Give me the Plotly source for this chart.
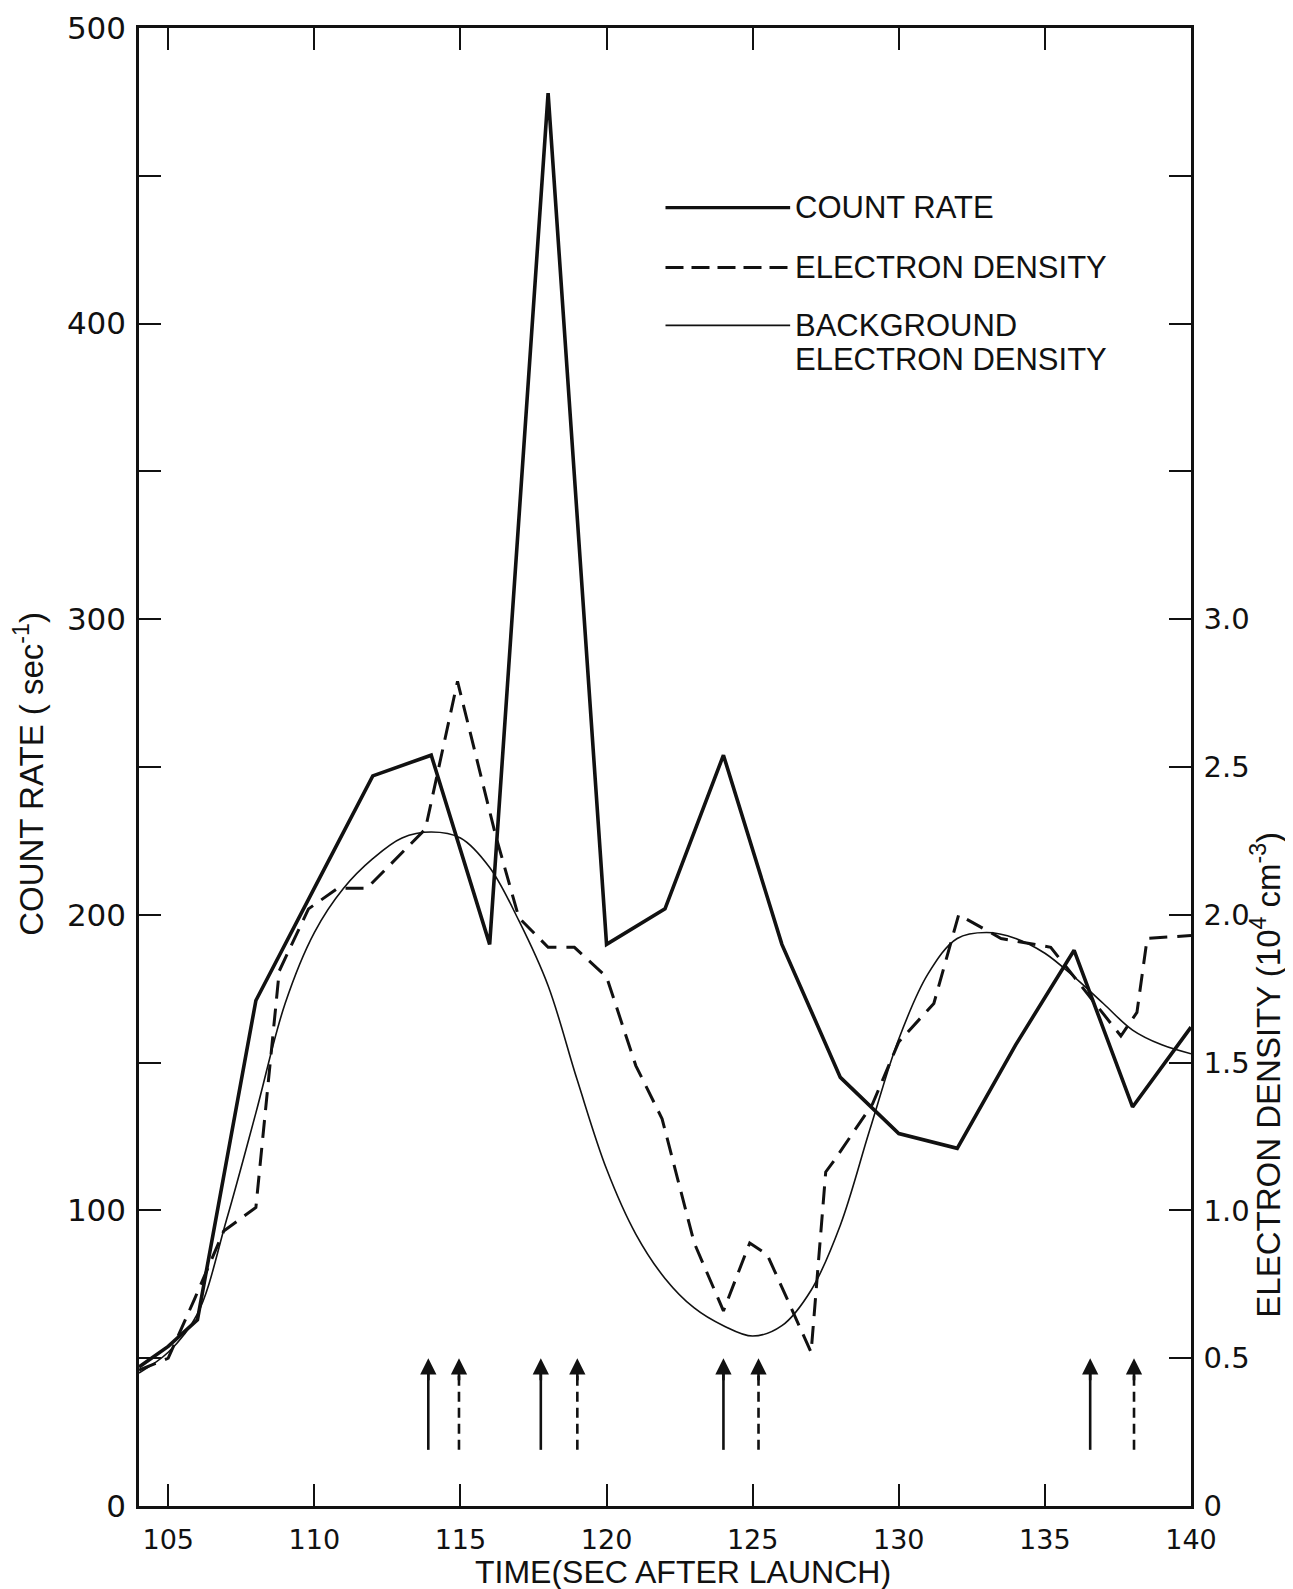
import plotly.graph_objects as go

# ---------------- data ----------------
count_t = [104, 105, 106, 108, 110, 112, 114, 116, 118, 120, 122, 124, 126, 128, 130, 132, 134, 136, 138, 140]
count_rate = [47, 54, 63, 171, 209, 247, 254, 190, 478, 190, 202, 254, 190, 145, 126, 121, 156, 188, 135, 162]

dens_t = [104, 105, 105.9, 106.9, 108, 108.8, 109.8, 110.8, 111.8, 113.8, 114.9, 116.2, 117, 118, 118.9,
          120, 121, 121.9, 123, 124, 124.9, 125.5, 127, 127.5, 127.8, 129.1, 130, 131.2, 132.05,
          133.5, 135.2, 137.6, 138.15, 138.5, 140]
dens = [0.46, 0.50, 0.70, 0.93, 1.01, 1.81, 2.02, 2.09, 2.09, 2.29, 2.79, 2.27, 1.99, 1.89, 1.89,
        1.79, 1.49, 1.31, 0.89, 0.66, 0.89, 0.85, 0.52, 1.13, 1.17, 1.36, 1.57, 1.70, 2.00,
        1.92, 1.89, 1.59, 1.67, 1.92, 1.93]

bg_t = list(range(104, 141))
bg = [0.45, 0.52, 0.65, 0.97, 1.33, 1.70, 1.94, 2.09, 2.19, 2.26, 2.28, 2.26, 2.16, 1.98, 1.76, 1.44,
      1.14, 0.92, 0.77, 0.67, 0.61, 0.575, 0.61, 0.73, 0.95, 1.27, 1.58, 1.80, 1.92, 1.94, 1.92,
      1.87, 1.79, 1.70, 1.61, 1.56, 1.53]

arrow_solid_t = [113.9, 117.75, 124.0, 136.55]
arrow_dashed_t = [114.95, 119.0, 125.2, 138.05]
arrow_base, arrow_tip = 19, 50

x_ticks = [105, 110, 115, 120, 125, 130, 135, 140]
x_labels = ["105", "110", "115", "120", "125", "130", "135", "140"]
y_ticks = [0, 100, 200, 300, 400, 500]
y2_labels = ["0", "0.5", "1.0", "1.5", "2.0", "2.5", "3.0"]

# ---------------- figure ----------------
W, H = 1293, 1589
OFF = 8  # page body offset
X0, X1, Y0, Y1 = 136, 1191, 25, 1506  # plot area in page pixels
L, T = X0 - OFF + 3, Y0 - OFF + 3
R, B = W - X1 + OFF, H - Y1 + OFF
PW, PH = X1 - X0, Y1 - Y0

def px(x):
    return (x - X0) / PW

def py(y):
    return (Y1 - y) / PH

NUMF = "DejaVu Sans"
TXTF = "Liberation Sans"
BLK = "#111111"

fig = go.Figure()

fig.add_trace(go.Scatter(x=count_t, y=count_rate, mode="lines",
                         line=dict(color=BLK, width=3.6), yaxis="y", showlegend=False))
fig.add_trace(go.Scatter(x=dens_t, y=dens, mode="lines",
                         line=dict(color=BLK, width=3.0, dash="18px,10px"), yaxis="y2", showlegend=False))
fig.add_trace(go.Scatter(x=bg_t, y=bg, mode="lines", line_shape="spline",
                         line=dict(color=BLK, width=1.6, smoothing=1.0), yaxis="y2", showlegend=False))

ann = []
# arrows: shafts as lines, heads as annotation arrowheads
for t in arrow_solid_t:
    fig.add_trace(go.Scatter(x=[t, t], y=[arrow_base, arrow_tip - 4], mode="lines",
                             line=dict(color=BLK, width=2.6), yaxis="y", showlegend=False))
for t in arrow_dashed_t:
    fig.add_trace(go.Scatter(x=[t, t], y=[arrow_base, arrow_tip - 4], mode="lines",
                             line=dict(color=BLK, width=2.6, dash="10px,6px"), yaxis="y", showlegend=False))
for t in arrow_solid_t + arrow_dashed_t:
    ann.append(dict(x=t, y=arrow_tip, ax=t, ay=arrow_tip - 8, xref="x", yref="y",
                    axref="x", ayref="y", text="", showarrow=True,
                    arrowhead=2, arrowsize=1.25, arrowwidth=2.6, arrowcolor=BLK))

fig.update_layout(
    width=W, height=H,
    margin=dict(l=L, r=R, t=T, b=B, autoexpand=False),
    paper_bgcolor="white", plot_bgcolor="white",
    showlegend=False,
    xaxis=dict(range=[104, 140], tickvals=x_ticks, ticktext=x_labels,
               ticks="inside", ticklen=22, tickwidth=2, tickcolor=BLK,
               showline=True, linecolor=BLK, linewidth=2.5, mirror="ticks",
               showgrid=False, zeroline=False, ticklabeloverflow="allow",
               tickfont=dict(family=NUMF, size=27, color=BLK), ticklabelstandoff=8),
    yaxis=dict(range=[0, 500], tickvals=list(range(0, 501, 50)),
               ticktext=[str(v) if v in y_ticks else "" for v in range(0, 501, 50)],
               ticks="inside", ticklen=22, tickwidth=2, tickcolor=BLK,
               showline=True, linecolor=BLK, linewidth=2.5, mirror=True,
               showgrid=False, zeroline=False, ticklabelstandoff=4, ticklabeloverflow="allow",
               tickfont=dict(family=NUMF, size=31, color=BLK)),
    yaxis2=dict(range=[0, 5], overlaying="y", side="right",
                tickvals=[v / 2 for v in range(0, 11)],
                ticktext=[y2_labels[i] if i < len(y2_labels) else "" for i in range(0, 11)],
                ticks="inside", ticklen=22, tickwidth=2, tickcolor=BLK,
                showline=True, linecolor=BLK, linewidth=2.5,
                showgrid=False, zeroline=False, ticklabelstandoff=4, ticklabeloverflow="allow",
                tickfont=dict(family=NUMF, size=29, color=BLK)),
)

ann.append(dict(text="COUNT RATE ( sec<sup>-1</sup>)", xref="paper", yref="paper",
                x=px(26), y=py(772), xanchor="center", yanchor="middle",
                textangle=-90, showarrow=False,
                font=dict(family=TXTF, size=33, color=BLK)))
ann.append(dict(text="ELECTRON DENSITY (10<sup>4</sup> cm<sup>-3</sup>)", xref="paper", yref="paper",
                x=px(1266), y=py(1074), xanchor="center", yanchor="middle",
                textangle=-90, showarrow=False,
                font=dict(family=TXTF, size=33, color=BLK)))
ann.append(dict(text="TIME(SEC AFTER LAUNCH)", xref="paper", yref="paper",
                x=px(682), y=py(1572), xanchor="center", yanchor="middle", showarrow=False,
                font=dict(family=TXTF, size=32, color=BLK)))

# legend (drawn)
leg = [("COUNT RATE", 205, dict(width=3.4)),
       ("ELECTRON DENSITY", 265, dict(width=3.0, dash="18px,8px")),
       ("BACKGROUND", 323, dict(width=1.8))]
shapes = []
for label, yy, ls in leg:
    shapes.append(dict(type="line", xref="paper", yref="paper",
                       x0=px(664), x1=px(789), y0=py(yy), y1=py(yy),
                       line=dict(color=BLK, **ls)))
    ann.append(dict(text=label, xref="paper", yref="paper", x=px(792), y=py(yy),
                    xanchor="left", yanchor="middle", align="left", showarrow=False,
                    font=dict(family=TXTF, size=31, color=BLK)))
ann.append(dict(text="ELECTRON DENSITY", xref="paper", yref="paper", x=px(792), y=py(357),
                xanchor="left", yanchor="middle", align="left", showarrow=False,
                font=dict(family=TXTF, size=31, color=BLK)))

fig.update_layout(annotations=ann, shapes=shapes)
fig.write_html("out.html")
